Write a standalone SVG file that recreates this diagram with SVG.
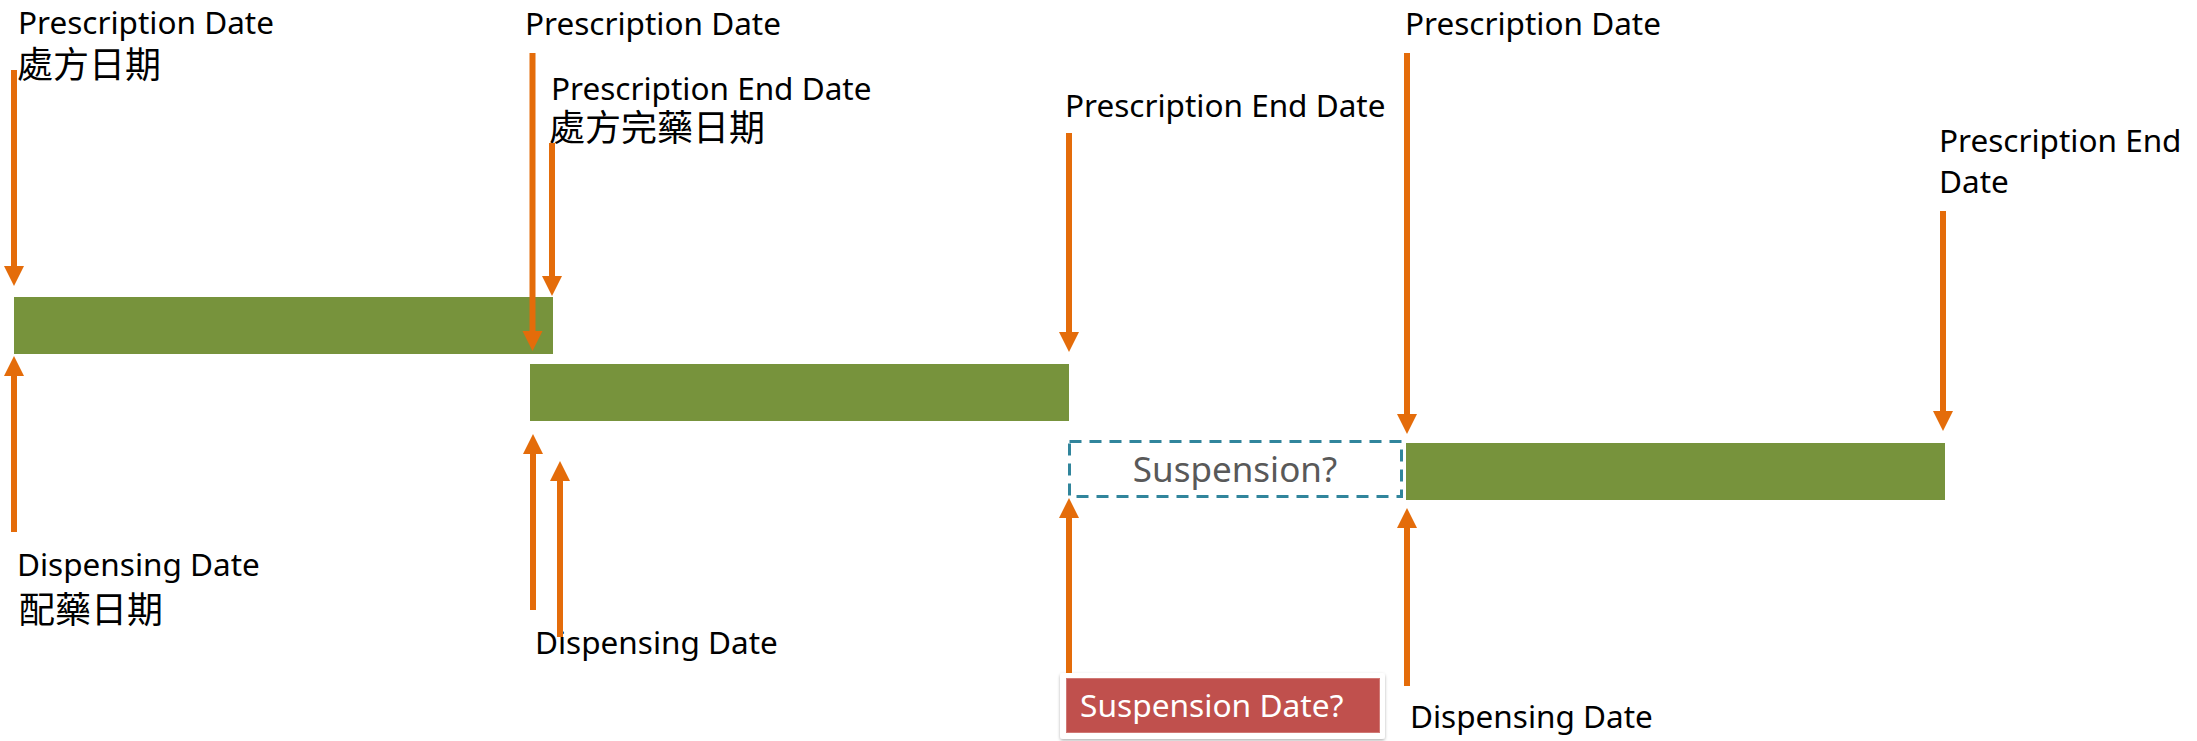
<svg xmlns="http://www.w3.org/2000/svg" width="2197" height="741" viewBox="0 0 2197 741">
  <style>
    .lbl { font-family: "Noto Sans", "Open Sans", "Noto Sans CJK TC", sans-serif; font-size: 31.5px; fill: #000000; }
    .cjk { font-family: "Noto Sans CJK TC", "Noto Sans CJK SC", sans-serif; font-size: 36px; fill: #000000; }
    .bar { fill: #77933C; }
    .arrow { stroke: #E46C0A; stroke-width: 6; fill: none; marker-end: url(#head); }
    .susp { fill: none; stroke: #31859C; stroke-width: 3; stroke-dasharray: 12 8; }
  </style>
  <defs>
    <marker id="head" markerUnits="userSpaceOnUse" markerWidth="21" markerHeight="21" refX="1" refY="10" orient="auto" overflow="visible">
      <path d="M0,0 L20,10 L0,20 Z" fill="#E46C0A"/>
    </marker>
    <filter id="shadow" x="-10%" y="-20%" width="120%" height="150%">
      <feDropShadow dx="0" dy="1.5" stdDeviation="1.5" flood-color="#000000" flood-opacity="0.3"/>
    </filter>
  </defs>

  <rect width="2197" height="741" fill="#ffffff"/>

  <!-- prescription periods -->
  <g id="period1"><rect class="bar" x="14" y="297" width="539" height="57"/></g>
  <g id="period2"><rect class="bar" x="530" y="364" width="539" height="57"/></g>
  <g id="period3"><rect class="bar" x="1406" y="443" width="539" height="57"/></g>

  <!-- possible suspension gap -->
  <g id="suspension">
    <rect class="susp" x="1069.5" y="441.5" width="332" height="55"/>
    <text x="1235" y="482" text-anchor="middle" font-family="Noto Sans, Open Sans, sans-serif" font-size="35" fill="#595959">Suspension?</text>
  </g>

  <!-- suspension date callout -->
  <g id="suspension-date">
    <rect x="1060" y="673" width="325" height="66" rx="3" fill="#ffffff" filter="url(#shadow)"/>
    <rect x="1066.5" y="678.5" width="313" height="54" fill="#C0504D" stroke="#D07874" stroke-width="1"/>
    <text x="1080" y="717" font-family="Noto Sans, Open Sans, sans-serif" font-size="31.7" fill="#ffffff">Suspension Date?</text>
  </g>

  <!-- labels -->
  <g id="rx-date-1">
    <text class="lbl" x="18" y="34">Prescription Date</text>
    <text class="cjk" x="17" y="78">處方日期</text>
  </g>
  <g id="rx-date-2"><text class="lbl" x="525" y="35">Prescription Date</text></g>
  <g id="rx-end-1">
    <text class="lbl" x="551" y="100">Prescription End Date</text>
    <text class="cjk" x="549" y="141">處方完藥日期</text>
  </g>
  <g id="rx-end-2"><text class="lbl" x="1065" y="117">Prescription End Date</text></g>
  <g id="rx-date-3"><text class="lbl" x="1405" y="35">Prescription Date</text></g>
  <g id="rx-end-3">
    <text class="lbl" x="1939" y="152">Prescription End</text>
    <text class="lbl" x="1939" y="193">Date</text>
  </g>
  <g id="disp-date-1">
    <text class="lbl" x="17" y="576">Dispensing Date</text>
    <text class="cjk" x="19" y="623">配藥日期</text>
  </g>
  <g id="disp-date-2"><text class="lbl" x="535" y="654">Dispensing Date</text></g>
  <g id="disp-date-3"><text class="lbl" x="1410" y="728">Dispensing Date</text></g>

  <!-- pointer arrows -->
  <g id="connectors">
    <line class="arrow" x1="14" y1="70" x2="14" y2="267"/>
    <line class="arrow" x1="532.5" y1="53" x2="532.5" y2="332"/>
    <line class="arrow" x1="552" y1="143" x2="552" y2="277"/>
    <line class="arrow" x1="1069" y1="133" x2="1069" y2="333"/>
    <line class="arrow" x1="1407" y1="53" x2="1407" y2="415"/>
    <line class="arrow" x1="1943" y1="211" x2="1943" y2="412"/>

    <line class="arrow" x1="14" y1="532" x2="14" y2="375"/>
    <line class="arrow" x1="533" y1="610" x2="533" y2="453"/>
    <line class="arrow" x1="560" y1="637" x2="560" y2="480"/>
    <line class="arrow" x1="1069" y1="673" x2="1069" y2="517"/>
    <line class="arrow" x1="1407" y1="686" x2="1407" y2="527"/>
  </g>
</svg>
